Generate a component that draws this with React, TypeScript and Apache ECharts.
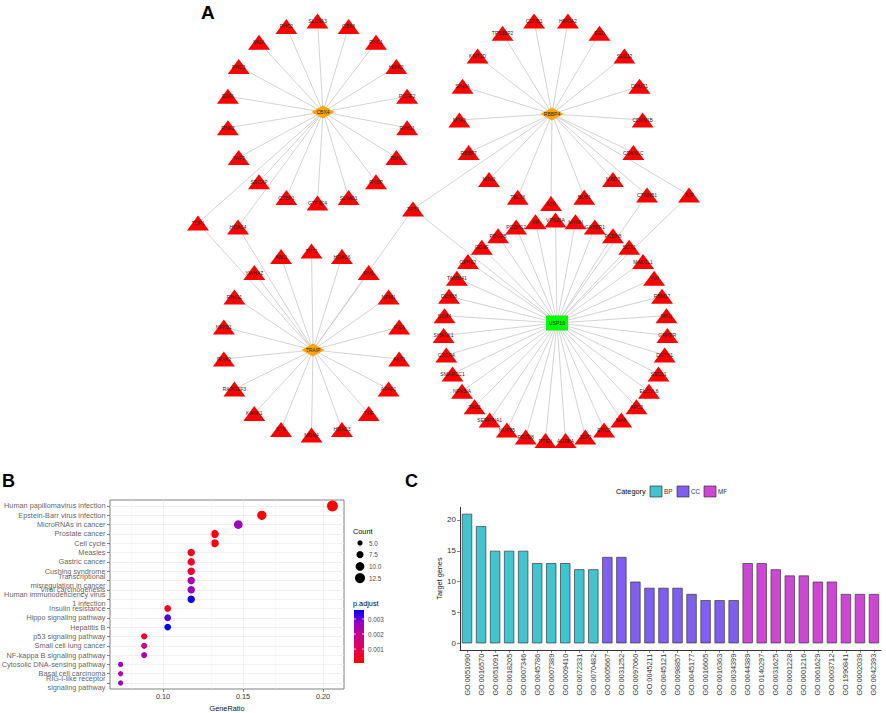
import React, { useEffect, useRef } from 'react';
import * as echarts from 'echarts';

// ---------------- Panel A: PPI network data ----------------
const hubNames = ['CBX4', 'RBBP4', 'TRAIP', 'USP16'];
const cbx4Targets = ['SLC9A3', 'CBX8', 'PHC1', 'HIPK2', 'PCGF2', 'RING1', 'BMI1', 'RYBP', 'SUMO1', 'GTF3C4', 'CTBP1', 'SRCAP', 'YAF2', 'RNF2', 'E2F6', 'PHC3', 'MGA', 'PHC2'];
const rbbp4Targets = ['ATR', 'TBL1X', 'MTA2', 'RBBP7', 'MTA3', 'SIN3A', 'KMT2D', 'TP53BP2', 'CCNB1', 'HMGA2', 'EED', 'SUZ12', 'DNMT1', 'CDKN1B', 'CDKN1C', 'MBD3', 'BUB1'];
const traipTargets = ['TP73', 'HDAC6', 'PML', 'NPM1', 'IFI16', 'AKT1', 'APAF1', 'TNF', 'HDAC3', 'MDM4', 'SYK', 'KANK1', 'RAPGEF3', 'IRAK2', 'NFKB1', 'RNF11', 'YWHAZ', 'ABL1'];
const usp16Targets = ['VPS26A', 'MYNN', 'GABBR1', 'PCDH8', 'SOX1', 'MAD1L1', 'VIM', 'RBM17', 'MXI1', 'GRHPR', 'DCTN1', 'SEC61', 'ELOVL6', 'APC2', 'MAK', 'ENO2', 'JDP2', 'AURKA', 'PTEN', 'PDZD8', 'NUP85', 'SERPINA1', 'TAB2', 'NFKBIA', 'SMARCC1', 'CXCR4', 'SHANK1', 'SOX4', 'DDX58', 'TAMM41', 'CPNE2', 'GDNF', 'PDGFB', 'PCDH12', 'AR'];
const sharedTargets = ['TP53', 'TOP1', 'HDAC4', 'CTNNB1', 'JUP'];
const sharedLinks = [
  ['TP53', 'RBBP4'], ['TP53', 'TRAIP'], ['TP53', 'USP16'],
  ['TOP1', 'CBX4'], ['TOP1', 'TRAIP'],
  ['HDAC4', 'CBX4'], ['HDAC4', 'TRAIP'],
  ['CTNNB1', 'RBBP4'], ['CTNNB1', 'USP16'],
  ['JUP', 'RBBP4'], ['JUP', 'USP16'],
];

// ---------------- Panel B: KEGG dot plot data ----------------
const keggPathways = [
  'Human papillomavirus infection', 'Epstein-Barr virus infection', 'MicroRNAs in cancer', 'Prostate cancer', 'Cell cycle',
  'Measles', 'Gastric cancer', 'Cushing syndrome', 'Transcriptional\nmisregulation in cancer', 'Viral carcinogenesis',
  'Human immunodeficiency virus\n1 infection', 'Insulin resistance', 'Hippo signaling pathway', 'Hepatitis B', 'p53 signaling pathway',
  'Small cell lung cancer', 'NF-kappa B signaling pathway', 'Cytosolic DNA-sensing pathway', 'Basal cell carcinoma', 'RIG-I-like receptor\nsignaling pathway',
];
const keggGeneRatio = ['14/68', '11/68', '10/68', '9/68', '9/68', '8/68', '8/68', '8/68', '8/68', '8/68', '8/68', '7/68', '7/68', '7/68', '6/68', '6/68', '6/68', '5/68', '5/68', '5/68'];
const keggCount = [14, 11, 10, 9, 9, 8, 8, 8, 8, 8, 8, 7, 7, 7, 6, 6, 6, 5, 5, 5];
const keggPAdjust = [0.00007, 0.00015, 0.0027, 0.00025, 0.0003, 0.0004, 0.0005, 0.0006, 0.0025, 0.0027, 0.0035, 0.0004, 0.0031, 0.0036, 0.0005, 0.0017, 0.0024, 0.0026, 0.0021, 0.0026];
const geneRatioTicks = [0.1, 0.15, 0.2];
const countLegendValues = [5, 7.5, 10, 12.5];
const pAdjustLegendValues = [0.001, 0.002, 0.003];

// ---------------- Panel C: GO bar chart data ----------------
const goTerms = ['GO:0051090', 'GO:0016570', 'GO:0051091', 'GO:0018205', 'GO:0007346', 'GO:0045786', 'GO:0007389', 'GO:0009410', 'GO:0072331', 'GO:0070482',
  'GO:0005667', 'GO:0031252', 'GO:0097060', 'GO:0045211', 'GO:0045121', 'GO:0098857', 'GO:0045177', 'GO:0016605', 'GO:0016363', 'GO:0034399',
  'GO:0044389', 'GO:0140297', 'GO:0031625', 'GO:0001228', 'GO:0001216', 'GO:0061629', 'GO:0003712', 'GO:1990841', 'GO:0002039', 'GO:0042393'];
const goCounts = [21, 19, 15, 15, 15, 13, 13, 13, 12, 12, 14, 14, 10, 9, 9, 9, 8, 7, 7, 7, 13, 13, 12, 11, 11, 10, 10, 8, 8, 8];
const goCategory = ['BP', 'BP', 'BP', 'BP', 'BP', 'BP', 'BP', 'BP', 'BP', 'BP', 'CC', 'CC', 'CC', 'CC', 'CC', 'CC', 'CC', 'CC', 'CC', 'CC', 'MF', 'MF', 'MF', 'MF', 'MF', 'MF', 'MF', 'MF', 'MF', 'MF'];
const categories = ['BP', 'CC', 'MF'];
const targetGeneTicks = [0, 5, 10, 15, 20];

// ---------------- Styling / layout ----------------
const FONT = "'Liberation Sans', Arial, sans-serif";
const categoryColors = ['#40C4CE', '#7E5FEF', '#CC48D3'];
const padjColors = ['#FF0000', '#E80050', '#CA0088', '#9A00C2', '#0000FF'];

const LAYOUT: Record<string, { hub: number[]; center: number[]; rx: number; ry: number; start: number }> = {
  CBX4: { hub: [323, 112], center: [317.5, 112], rx: 91, ry: 91, start: 0 },
  RBBP4: { hub: [552, 114], center: [551, 111.5], rx: 92, ry: 92, start: 180 },
  TRAIP: { hub: [313, 350], center: [311.5, 343], rx: 89, ry: 92, start: 0 },
  USP16: { hub: [557, 323], center: [555.5, 330.5], rx: 112, ry: 110.5, start: 0 },
};
const SHARED_POS: Record<string, number[]> = { TP53: [413, 209], TOP1: [198, 223], HDAC4: [238, 227], CTNNB1: [647, 195], JUP: [689, 195] };
const HUB_STYLE: Record<string, { symbol: string; color: string; size: number[] }> = {
  CBX4: { symbol: 'diamond', color: '#FFA500', size: [23, 13] },
  RBBP4: { symbol: 'diamond', color: '#FFA500', size: [23, 13] },
  TRAIP: { symbol: 'diamond', color: '#FFA500', size: [23, 13] },
  USP16: { symbol: 'rect', color: '#00FF00', size: [22, 15] },
};
const TRI = { symbol: 'triangle', symbolSize: [22, 15], itemStyle: { color: '#FF0000' } };

function buildNetwork() {
  const nodes: any[] = [];
  const links: any[] = [];
  const ringSets: Record<string, string[]> = { CBX4: cbx4Targets, RBBP4: rbbp4Targets, TRAIP: traipTargets, USP16: usp16Targets };
  hubNames.forEach((h) => {
    const L = LAYOUT[h];
    const list = ringSets[h];
    list.forEach((name, k) => {
      const a = ((L.start + (k * 360) / list.length) * Math.PI) / 180;
      nodes.push({ name, value: [L.center[0] + L.rx * Math.sin(a), L.center[1] - L.ry * Math.cos(a)], ...TRI });
      links.push({ source: name, target: h });
    });
  });
  sharedTargets.forEach((name) => nodes.push({ name, value: SHARED_POS[name], ...TRI }));
  sharedLinks.forEach(([s, t]) => links.push({ source: s, target: t }));
  hubNames.forEach((h) => {
    const st = HUB_STYLE[h];
    nodes.push({ name: h, value: LAYOUT[h].hub, symbol: st.symbol, symbolSize: st.size, itemStyle: { color: st.color } });
  });
  return { nodes, links };
}

const sizeOf = (c: number) => 3.69 * Math.sqrt(c) - 2.97;
const ratioOf = (s: string) => {
  const [a, b] = s.split('/').map(Number);
  return a / b;
};

function buildOption() {
  const { nodes, links } = buildNetwork();
  const pMin = Math.min(...keggPAdjust);
  const pMax = Math.max(...keggPAdjust);
  const rows = keggPathways.map((_, i) => i + 1);
  const step = geneRatioTicks[1] - geneRatioTicks[0];
  const xMin = 0.0669, xMax = 0.2131;
  const minorTicks = [geneRatioTicks[0] - step / 2, ...geneRatioTicks.map((t) => t + step / 2)].filter((v) => v > xMin && v < xMax);

  const graphics: any[] = [
    { type: 'text', x: 201, y: 12, style: { text: 'A', font: `bold 19px ${FONT}`, fill: '#000', textVerticalAlign: 'middle', verticalAlign: 'middle' } },
    { type: 'text', x: 2, y: 481, style: { text: 'B', font: `bold 18px ${FONT}`, fill: '#000', textVerticalAlign: 'middle', verticalAlign: 'middle' } },
    { type: 'text', x: 405, y: 481, style: { text: 'C', font: `bold 18px ${FONT}`, fill: '#000', textVerticalAlign: 'middle', verticalAlign: 'middle' } },
    { type: 'text', x: 353, y: 531, style: { text: 'Count', font: `7.3px ${FONT}`, fill: '#000', textVerticalAlign: 'middle', verticalAlign: 'middle' } },
    { type: 'text', x: 353, y: 603, style: { text: 'p.adjust', font: `7.3px ${FONT}`, fill: '#000', textVerticalAlign: 'middle', verticalAlign: 'middle' } },
    { type: 'text', x: 616, y: 491, style: { text: 'Category', font: `7.3px ${FONT}`, fill: '#000', textVerticalAlign: 'middle', verticalAlign: 'middle' } },
  ];
  countLegendValues.forEach((v, i) => {
    const cy = 543 + i * 11.7;
    graphics.push({ type: 'circle', shape: { cx: 360, cy, r: sizeOf(v) / 2 }, style: { fill: '#000' } });
    graphics.push({ type: 'text', x: 369, y: cy, style: { text: v.toFixed(1), font: `6.3px ${FONT}`, fill: '#4d4d4d', textVerticalAlign: 'middle', verticalAlign: 'middle' } });
  });
  const barTop = 610, barH = 53, barX = 354, barW = 10;
  graphics.push({
    type: 'rect', shape: { x: barX, y: barTop, width: barW, height: barH },
    style: {
      fill: new echarts.graphic.LinearGradient(0, 0, 0, 1, padjColors.slice().reverse().map((c, i) => ({ offset: i / (padjColors.length - 1), color: c }))),
    },
  });
  pAdjustLegendValues.forEach((v) => {
    const y = barTop + barH - ((v - pMin) / (pMax - pMin)) * barH;
    graphics.push({ type: 'line', shape: { x1: barX, y1: y, x2: barX + 2, y2: y }, style: { stroke: '#fff', lineWidth: 0.8 } });
    graphics.push({ type: 'line', shape: { x1: barX + barW - 2, y1: y, x2: barX + barW, y2: y }, style: { stroke: '#fff', lineWidth: 0.8 } });
    graphics.push({ type: 'text', x: 368, y, style: { text: String(v), font: `6.3px ${FONT}`, fill: '#4d4d4d', textVerticalAlign: 'middle', verticalAlign: 'middle' } });
  });
  categories.forEach((c, i) => {
    const x = 650 + i * 27;
    graphics.push({ type: 'rect', shape: { x, y: 486, width: 12, height: 11 }, style: { fill: categoryColors[i], stroke: '#333', lineWidth: 0.7 } });
    graphics.push({ type: 'text', x: x + 14, y: 491.5, style: { text: c, font: `6.3px ${FONT}`, fill: '#333', textVerticalAlign: 'middle', verticalAlign: 'middle' } });
  });

  const tickStyle = { color: '#333', width: 0.6 };
  return {
    animation: false,
    backgroundColor: '#fff',
    textStyle: { fontFamily: FONT },
    grid: [
      { left: 0, top: 0, width: 886, height: 713, show: false },
      { left: 110, top: 500, width: 234, height: 191, show: true, borderColor: '#808080', borderWidth: 1, backgroundColor: 'transparent' },
      { left: 460, top: 507.3, width: 421, height: 142.5, show: false },
    ],
    xAxis: [
      { type: 'value', gridIndex: 0, min: 0, max: 886, show: false },
      {
        type: 'value', gridIndex: 1, min: xMin, max: xMax,
        name: 'GeneRatio', nameLocation: 'middle', nameGap: 16, nameTextStyle: { fontSize: 7.3, color: '#111', fontFamily: FONT },
        axisLine: { show: false, onZero: false },
        axisTick: { show: true, length: 3, lineStyle: tickStyle, customValues: geneRatioTicks },
        axisLabel: { customValues: geneRatioTicks, formatter: (v: number) => v.toFixed(2), fontSize: 7.3, color: '#333', margin: 4 },
        splitLine: { show: true, lineStyle: { color: '#ebebeb', width: 0.8 } },
      },
      {
        type: 'category', gridIndex: 2, data: goTerms,
        axisLine: { show: true, onZero: false, lineStyle: { color: '#000', width: 0.8 } },
        axisTick: { show: true, alignWithLabel: true, length: 3, lineStyle: tickStyle },
        axisLabel: { rotate: 90, interval: 0, fontSize: 7.3, color: '#333', margin: 4 },
        splitLine: { show: false },
      },
    ],
    yAxis: [
      { type: 'value', gridIndex: 0, min: 0, max: 713, inverse: true, show: false },
      {
        type: 'value', gridIndex: 1, min: 0.36, max: 20.64, inverse: true,
        axisLine: { show: false, onZero: false },
        axisTick: { show: true, length: 3, lineStyle: tickStyle, customValues: rows },
        axisLabel: { show: false, customValues: rows },
        splitLine: { show: true, lineStyle: { color: '#ebebeb', width: 0.8 } },
      },
      {
        type: 'value', gridIndex: 2, min: -1.05, max: 22.05,
        name: 'Target genes', nameLocation: 'middle', nameGap: 17, nameTextStyle: { fontSize: 7.3, color: '#111', fontFamily: FONT },
        axisLine: { show: true, onZero: false, lineStyle: { color: '#000', width: 0.8 } },
        axisTick: { show: true, length: 3, lineStyle: tickStyle, customValues: targetGeneTicks },
        axisLabel: { customValues: targetGeneTicks, fontSize: 8, color: '#333', margin: 4 },
        splitLine: { show: false },
      },
    ],
    visualMap: [{
      type: 'continuous', show: false, seriesIndex: 1, dimension: 2, min: pMin, max: pMax,
      inRange: { color: padjColors },
    }],
    series: [
      {
        type: 'graph', coordinateSystem: 'cartesian2d', xAxisIndex: 0, yAxisIndex: 0, layout: 'none',
        data: nodes, links, silent: true,
        lineStyle: { color: '#c6c6c6', width: 0.8, opacity: 1, curveness: 0 },
        label: { show: true, position: 'inside', fontSize: 5, color: '#222', fontFamily: FONT },
        emphasis: { disabled: true },
      },
      {
        type: 'scatter', xAxisIndex: 1, yAxisIndex: 1, silent: true,
        data: keggPathways.map((_, i) => [ratioOf(keggGeneRatio[i]), i + 1, keggPAdjust[i], keggCount[i]]),
        symbolSize: (v: number[]) => sizeOf(v[3]),
        itemStyle: { opacity: 1 },
        markLine: {
          silent: true, symbol: 'none', label: { show: false },
          lineStyle: { color: '#f3f3f3', width: 0.5, type: 'solid' },
          data: minorTicks.map((v) => ({ xAxis: v })),
        },
        z: 3,
      },
      {
        // category labels of panel B, placed through the axis scale
        type: 'scatter', xAxisIndex: 1, yAxisIndex: 1, silent: true, clip: false,
        data: rows.map((r) => [xMin, r]),
        symbolSize: 1,
        itemStyle: { color: 'rgba(0,0,0,0)' },
        label: {
          show: true, position: 'left', distance: 4,
          formatter: (p: any) => keggPathways[p.dataIndex],
          fontSize: 7.3, color: '#333', lineHeight: 9, align: 'right', fontFamily: FONT,
        },
        z: 4,
      },
      ...categories.map((cat, ci) => ({
        type: 'bar', name: cat, xAxisIndex: 2, yAxisIndex: 2, barWidth: '73%', barGap: '-100%', silent: true,
        data: goCounts.map((v, i) => (goCategory[i] === cat ? v : '-')),
        itemStyle: { color: categoryColors[ci], borderColor: '#3a3a3a', borderWidth: 0.7 },
      })),
    ],
    graphic: graphics,
  };
}

export default function App() {
  const ref = useRef<HTMLDivElement>(null);
  useEffect(() => {
    if (!ref.current) return;
    const chart = echarts.init(ref.current, undefined, { renderer: 'svg' });
    chart.setOption(buildOption() as any);
    return () => chart.dispose();
  }, []);
  return <div ref={ref} style={{ position: 'absolute', left: 0, top: 0, width: 886, height: 713, background: '#fff' }} />;
}
